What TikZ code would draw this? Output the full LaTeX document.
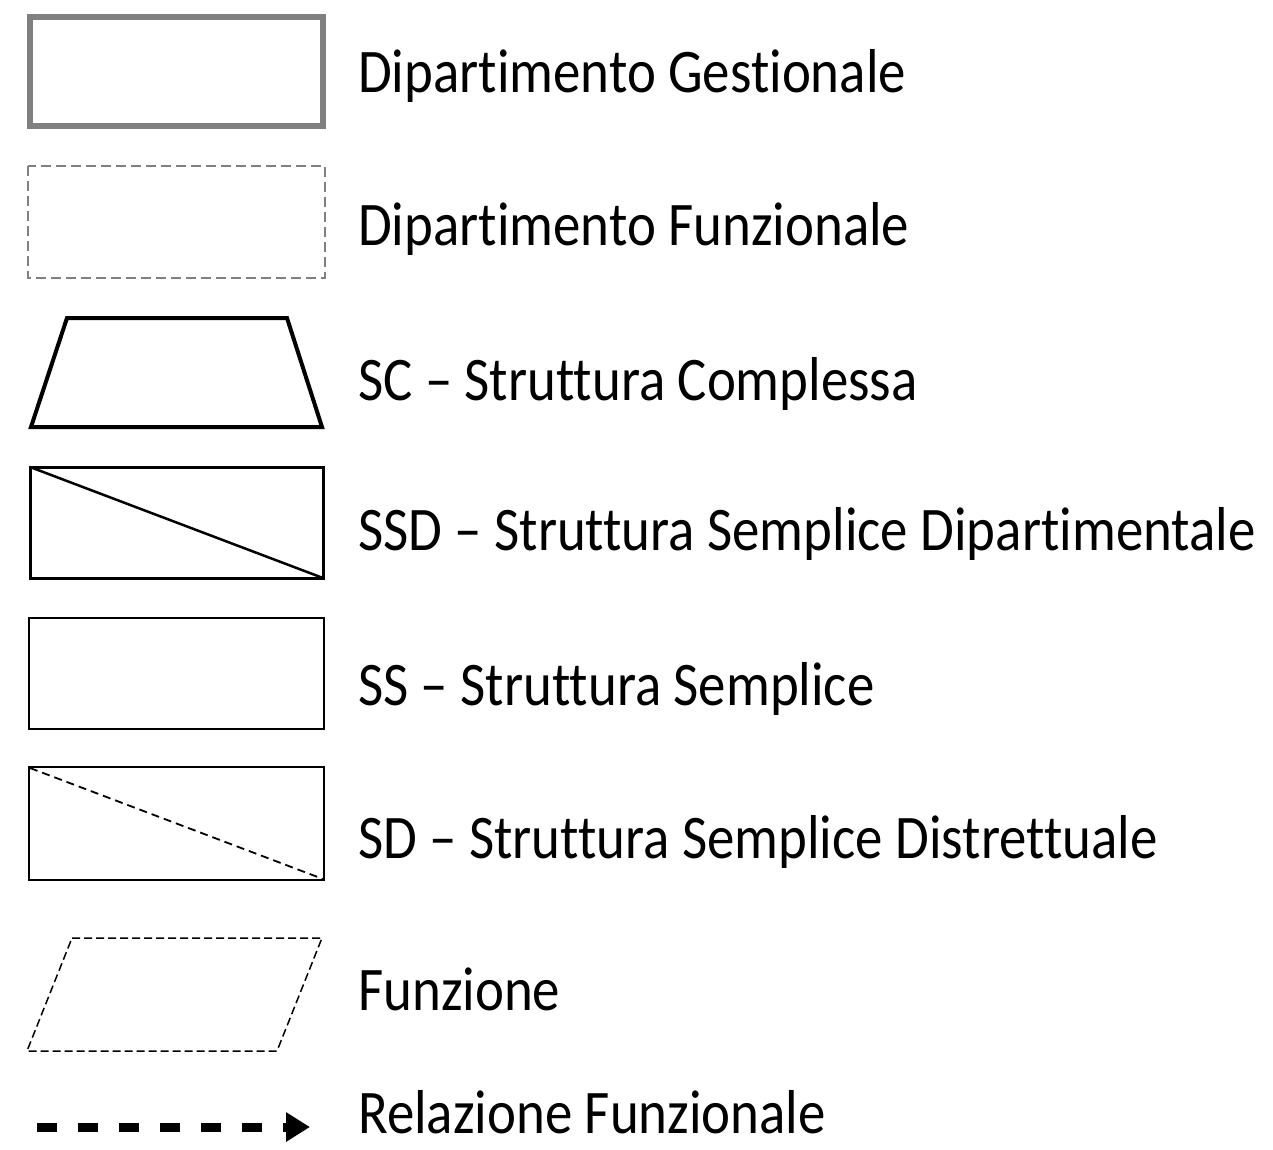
\documentclass[tikz,border=0pt]{standalone}
\usepackage{fontspec}
\setmainfont{Carlito}[Ligatures={NoCommon}]
\usetikzlibrary{arrows.meta}
\definecolor{frgray}{HTML}{808080}
\tikzset{
  lbl/.style={anchor=base west,inner sep=0pt,font=\fontsize{62}{62}\selectfont},
  solidbox/.style={draw=black,line width=3pt},
  thinbox/.style={draw=black,line width=2pt},
}
\newcommand{\lt}[1]{\scalebox{0.885}[1]{#1}}
\begin{document}
\begin{tikzpicture}[x=1pt,y=-1pt]
\useasboundingbox (0,0) rectangle (1273,1149);
% Dipartimento Gestionale
\draw[draw=frgray,line width=6pt] (30,17) rectangle (323,126);
\node[lbl] (t1) at (358,92) {\lt{Dipartimento Gestionale}};
% Dipartimento Funzionale
\draw[draw=frgray,line width=2pt,dash pattern=on 10pt off 5pt] (28,166) rectangle (325,278);
\node[lbl] (t2) at (358,245) {\lt{Dipartimento Funzionale}};
% Struttura Complessa
\draw[draw=black,line width=4pt,line join=miter] (67,318) -- (287,318) -- (322,427) -- (31,427) -- cycle;
\node[lbl] (t3) at (358,400) {\lt{SC – Struttura Complessa}};
% SSD
\draw[solidbox] (30,467) rectangle (323,578);
\draw[black,line width=2.5pt] (30,467) -- (323,578);
\node[lbl] (t4) at (358,550) {\lt{SSD – Struttura Semplice Dipartimentale}};
% SS
\draw[thinbox] (29,618) rectangle (324,729);
\node[lbl] (t5) at (358,705) {\lt{SS – Struttura Semplice}};
% SD
\draw[thinbox] (29,767) rectangle (324,880);
\draw[black,line width=1.8pt,dash pattern=on 8pt off 5pt] (30,768) -- (323,879);
\node[lbl] (t6) at (358,858) {\lt{SD – Struttura Semplice Distrettuale}};
% Funzione
\draw[black,line width=1.5pt,dash pattern=on 8pt off 4pt] (72,938) -- (322,938) -- (277,1051) -- (27,1051) -- cycle;
\node[lbl] (t7) at (358,1010) {\lt{Funzione}};
% Relazione Funzionale
\coordinate (rs) at (37,1127);
\coordinate (re) at (310,1127);
\draw[black,line width=9pt,dash pattern=on 20pt off 21pt,-{Triangle[length=24pt,width=28pt]}] (rs) -- (re);
\node[lbl] (t8) at (358,1133) {\lt{Relazione Funzionale}};
\end{tikzpicture}
\end{document}
